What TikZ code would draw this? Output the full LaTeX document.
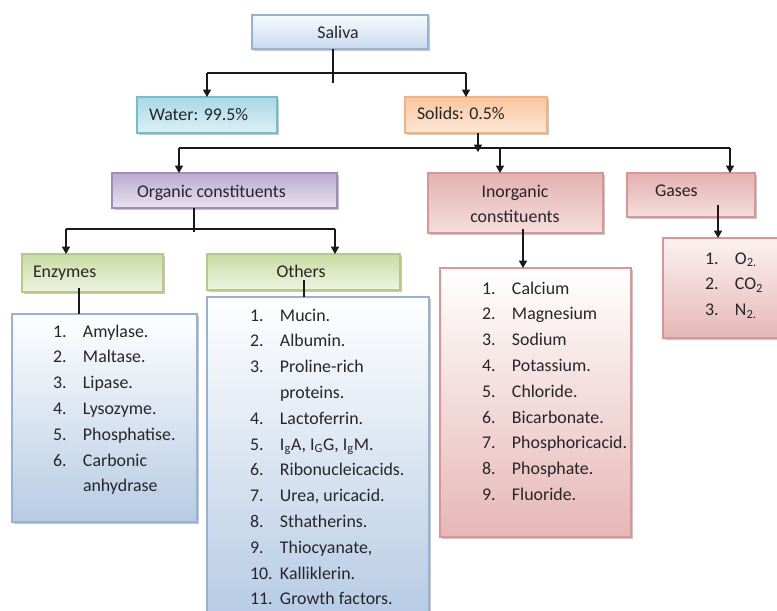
\documentclass[tikz,border=0pt]{standalone}
\usepackage{fontspec}
\setmainfont{Carlito}
\usetikzlibrary{shadows,arrows.meta,calc,fit}
\definecolor{salB}{HTML}{95B3D7}\definecolor{salT}{HTML}{F7FAFD}\definecolor{salBo}{HTML}{C9DAEF}
\definecolor{watB}{HTML}{6FBFD3}\definecolor{watT}{HTML}{A8D8E5}\definecolor{watBo}{HTML}{DDF0F5}
\definecolor{solB}{HTML}{F5B27F}\definecolor{solT}{HTML}{FAC59E}\definecolor{solBo}{HTML}{FDE8D8}
\definecolor{orgB}{HTML}{A18BBF}\definecolor{orgT}{HTML}{BBABD0}\definecolor{orgBo}{HTML}{E8E2EF}
\definecolor{redB}{HTML}{D99694}\definecolor{redT}{HTML}{E4B1B0}\definecolor{redBo}{HTML}{F4DEDD}
\definecolor{grnB}{HTML}{B3CC82}\definecolor{grnT}{HTML}{C9DBA3}\definecolor{grnBo}{HTML}{EEF4E2}
\definecolor{lstBo}{HTML}{B6CBE4}\definecolor{rlstBo}{HTML}{E6B7B6}
\begin{document}
\begin{tikzpicture}[x=0.75pt,y=-0.75pt,
  every node/.style={font=\fontsize{13.4}{19.35}\selectfont, text=black!85, inner sep=0pt, outer sep=0pt},
  shbox/.style={draw=#1, line width=0.8pt, drop shadow={shadow xshift=1.6pt,shadow yshift=-1.6pt,fill=black!40,opacity=0.55}},
  salivabox/.style={shbox=salB, top color=salT, bottom color=salBo},
  waterbox/.style={shbox=watB, top color=watT, bottom color=watBo},
  solidbox/.style={shbox=solB, top color=solT, bottom color=solBo},
  orgbox/.style={shbox=orgB, top color=orgT, bottom color=orgBo},
  redbox/.style={shbox=redB, top color=redT, bottom color=redBo},
  grnbox/.style={shbox=grnB, top color=grnT, bottom color=grnBo},
  bluelist/.style={shbox=salB, top color=white, bottom color=lstBo},
  redlist/.style={shbox=redB, top color=white, bottom color=rlstBo},
  gaslist/.style={shbox=redB, top color=white!60!redBo, bottom color=rlstBo},
  conn/.style={draw=black!90, line width=0.9pt},
  arr/.style={conn, -{Triangle[width=6pt,length=5.5pt]}},
  lbl/.style={anchor=base west},
]
\clip (0,0) rectangle (777,610);
\fill[white] (0,0) rectangle (777,610);
% boxes
\node[salivabox, fit={(252,15) (428,49)}] (saliva) {};
\node[waterbox, fit={(137,97) (277,133)}] (water) {};
\node[solidbox, fit={(405,97) (547,133)}] (solids) {};
\node[orgbox, fit={(112,173) (337,208)}] (organic) {};
\node[redbox, fit={(428,173) (603,233)}] (inorganic) {};
\node[redbox, fit={(627,173) (755,217)}] (gases) {};
\node[grnbox, fit={(22,254) (163,292)}] (enzymes) {};
\node[grnbox, fit={(207,254) (400,290)}] (others) {};
\node[bluelist, fit={(12,314) (197,522)}] (enzlist) {};
\node[bluelist, fit={(207,297) (429,618)}] (othlist) {};
\node[redlist, fit={(440,268) (631,537)}] (inolist) {};
\node[gaslist, fit={(663,238) (790,338)}] (gaslst) {};
% box labels
\node[anchor=base] (salivaT) at (338,39) {Saliva};
\node[lbl] (waterT) at (149,120) {Water: 99.5\%};
\node[lbl] (solidsT) at (417,119) {Solids: 0.5\%};
\node[lbl] (organicT) at (137,197) {Organic constituents};
\node[anchor=base] (inorganicT) at (515,197) {\begin{tabular}[t]{@{}c@{}}Inorganic\\constituents\end{tabular}};
\node[lbl] (gasesT) at (655,196) {Gases};
\node[lbl] (enzymesT) at (33,277) {Enzymes};
\node[anchor=base] (othersT) at (301,277) {Others};
% lists
\node[lbl] (enzitems) at (53,337) {\begin{tabular}[t]{@{}p{22.5pt}@{}l@{}}
1. & Amylase.\\ 2. & Maltase.\\ 3. & Lipase.\\ 4. & Lysozyme.\\ 5. & Phosphatise.\\ 6. & Carbonic\\ & anhydrase\end{tabular}};
\node[lbl] (othitems) at (250,321) {\begin{tabular}[t]{@{}p{22.5pt}@{}l@{}}
1. & Mucin.\\ 2. & Albumin.\\ 3. & Proline-rich\\ & proteins.\\ 4. & Lactoferrin.\\
5. & I\textsubscript{g}A, I\textsubscript{G}G, I\textsubscript{g}M.\\ 6. & Ribonucleicacids.\\ 7. & Urea, uricacid.\\
8. & Sthatherins.\\ 9. & Thiocyanate,\\ 10. & Kalliklerin.\\ 11. & Growth factors.\end{tabular}};
\node[lbl] (inoitems) at (482,294) {\begin{tabular}[t]{@{}p{22.5pt}@{}l@{}}
1. & Calcium\\ 2. & Magnesium\\ 3. & Sodium\\ 4. & Potassium.\\ 5. & Chloride.\\ 6. & Bicarbonate.\\
7. & Phosphoricacid.\\ 8. & Phosphate.\\ 9. & Fluoride.\end{tabular}};
\node[lbl] (gasitems) at (705,264) {\begin{tabular}[t]{@{}p{22.5pt}@{}l@{}}
1. & O\textsubscript{2.}\\ 2. & CO\textsubscript{2}\\ 3. & N\textsubscript{2.}\end{tabular}};
% junction coordinates
\coordinate (j1) at (333,73);
\coordinate (j2) at (478,148);
\coordinate (j3) at (194,229);
% connectors
\draw[conn] (saliva.south -| j1) -- ($(j1)+(0,10)$);
\draw[conn] (j1 -| water.north) -- (j1 -| 466,0);
\draw[arr] (j1 -| water.north) -- (water.north);
\draw[arr] (j1 -| 466,0) -- (solids.north -| 466,0);
\draw[arr] (solids.south -| j2) -- ($(j2)+(0,4)$);
\draw[conn] (j2 -| 179,0) -- (j2 -| 730,0);
\draw[arr] (j2 -| 179,0) -- (organic.north -| 179,0);
\draw[arr] (j2 -| 500,0) -- (inorganic.north -| 500,0);
\draw[arr] (j2 -| 730,0) -- (gases.north -| 730,0);
\draw[conn] (organic.south -| j3) -- ($(j3)+(0,3)$);
\draw[conn] (j3 -| 66,0) -- (j3 -| 335,0);
\draw[arr] (j3 -| 66,0) -- (enzymes.north -| 66,0);
\draw[arr] (j3 -| 335,0) -- (others.north -| 335,0);
\draw[conn] ($(enzymes.south -| 79,0)+(0,-4)$) -- (enzlist.north -| 79,0);
\draw[conn] ($(others.south -| 304,0)+(0,-10)$) -- (othlist.north -| 304,0);
\draw[arr] ($(inorganic.south -| 523,0)+(0,-4)$) -- (inolist.north -| 523,0);
\draw[arr] ($(gases.south -| 718,0)+(0,-12)$) -- (gaslst.north -| 718,0);
\end{tikzpicture}
\end{document}
